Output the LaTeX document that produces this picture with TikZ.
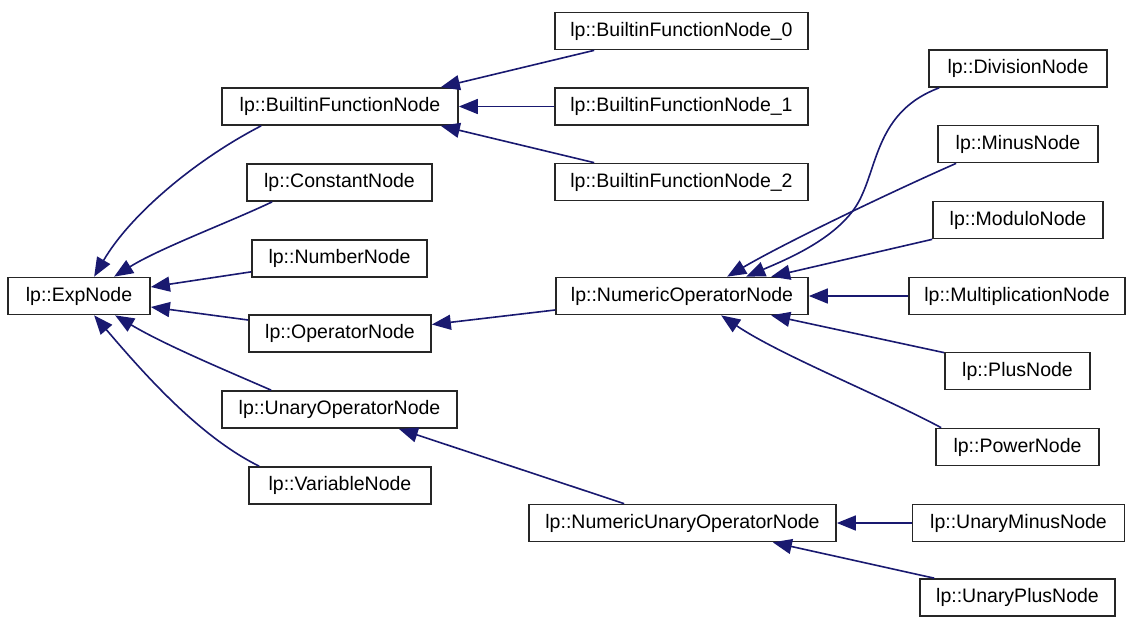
\documentclass[tikz,border=0pt]{standalone}
\usepackage{fontspec}
\setmainfont{Liberation Sans}
\usetikzlibrary{arrows.meta}
\definecolor{edgeblue}{HTML}{191970}
\begin{document}
\begin{tikzpicture}[x=1pt,y=-1pt,
  cls/.style={draw=black!85, line width=1.7pt, fill=white, inner sep=0pt,
    minimum height=37pt, font=\fontsize{19.5}{22}\selectfont},
  inherit/.style={draw=edgeblue, line width=1.6pt,
    -{Triangle[length=19pt,width=15pt]}, fill=none}]
\useasboundingbox (0,0) rectangle (1126,616);

% classes
\node[cls, minimum width=142pt] (exp)   at (79,296)    {lp::ExpNode};
\node[cls, minimum width=236pt] (bfn)   at (340,106.5) {lp::BuiltinFunctionNode};
\node[cls, minimum width=185pt] (const) at (339.5,182.5) {lp::ConstantNode};
\node[cls, minimum width=175pt] (num)   at (339.5,258.5) {lp::NumberNode};
\node[cls, minimum width=182pt] (op)    at (340,333.5) {lp::OperatorNode};
\node[cls, minimum width=235pt] (uop)   at (339.5,409.5) {lp::UnaryOperatorNode};
\node[cls, minimum width=182pt] (var)   at (340,485.5) {lp::VariableNode};
\node[cls, minimum width=253pt] (b0)    at (681.5,31)  {lp::BuiltinFunctionNode\_0};
\node[cls, minimum width=253pt] (b1)    at (681.5,106.5) {lp::BuiltinFunctionNode\_1};
\node[cls, minimum width=253pt] (b2)    at (681.5,182) {lp::BuiltinFunctionNode\_2};
\node[cls, minimum width=252pt] (nop)   at (682,296)   {lp::NumericOperatorNode};
\node[cls, minimum width=307pt] (nuop)  at (682.5,523)   {lp::NumericUnaryOperatorNode};
\node[cls, minimum width=178pt] (div)   at (1018,68.5) {lp::DivisionNode};
\node[cls, minimum width=160pt] (minus) at (1018,144)  {lp::MinusNode};
\node[cls, minimum width=170pt] (mod)   at (1018,220)  {lp::ModuloNode};
\node[cls, minimum width=216pt] (mult)  at (1017,296)  {lp::MultiplicationNode};
\node[cls, minimum width=145pt] (plus)  at (1017.5,371) {lp::PlusNode};
\node[cls, minimum width=163pt] (power) at (1017.5,447) {lp::PowerNode};
\node[cls, minimum width=212pt] (uminus) at (1018.5,523) {lp::UnaryMinusNode};
\node[cls, minimum width=195pt] (uplus) at (1017.5,597.5) {lp::UnaryPlusNode};

% inheritance edges into lp::ExpNode
\draw[inherit] ([xshift=40pt]bfn.south west) .. controls (195,160) and (130,215) .. ([xshift=87pt]exp.north west);
\draw[inherit] ([xshift=26pt]const.south west) .. controls (230,222) and (160,248) .. ([xshift=107pt]exp.north west);
\draw[inherit] ([yshift=6pt]num.south west) -- ([yshift=9pt]exp.east);
\draw[inherit] ([yshift=13.5pt]op.west) -- ([yshift=-11pt]exp.east);
\draw[inherit] ([xshift=50pt]uop.north west) .. controls (225,370) and (165,345) .. ([xshift=108pt]exp.south west);
\draw[inherit] ([xshift=11pt]var.north west) .. controls (200,437) and (145,375) .. ([xshift=87pt]exp.south west);

% builtin functions
\draw[inherit] ([xshift=40pt]b0.south west) -- ([xshift=-18pt]bfn.north east);
\draw[inherit] (b1.west) -- (bfn.east);
\draw[inherit] ([xshift=40pt]b2.north west) -- ([xshift=-18pt]bfn.south east);

% operators
\draw[inherit] ([yshift=-14pt]nop.west) -- ([yshift=9pt]op.east);
\draw[inherit] ([xshift=96pt]nuop.north west) -- ([xshift=-59pt]uop.south east);

% numeric operators
\draw[inherit] ([xshift=11pt]div.south west) .. controls (880,110) and (878,160) .. (862,195)
  .. controls (845,235) and (790,258) .. ([xshift=191pt]nop.north west);
\draw[inherit] ([xshift=19pt]minus.south west) .. controls (900,188) and (790,240) .. ([xshift=172pt]nop.north west);
\draw[inherit] (mod.south west) -- ([xshift=216pt]nop.north west);
\draw[inherit] (mult.west) -- (nop.east);
\draw[inherit] ([yshift=-1pt]plus.north west) -- ([xshift=216pt]nop.south west);
\draw[inherit] ([xshift=6pt]power.north west) .. controls (880,395) and (780,355) .. ([xshift=166pt]nop.south west);

% numeric unary operators
\draw[inherit] (uminus.west) -- (nuop.east);
\draw[inherit] ([xshift=15pt]uplus.north west) -- ([xshift=-64pt]nuop.south east);
\end{tikzpicture}
\end{document}
